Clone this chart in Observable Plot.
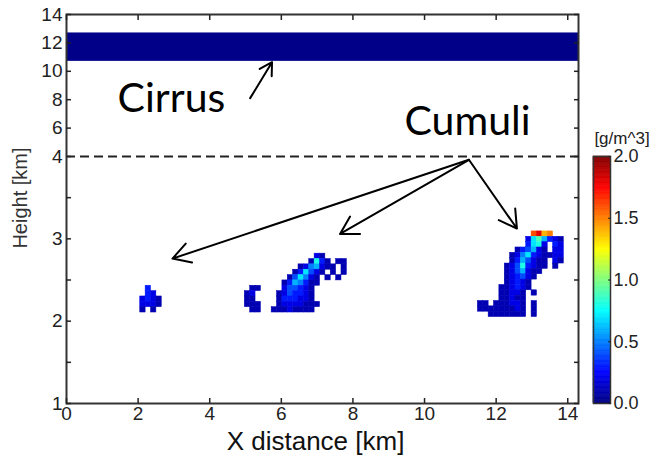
<!DOCTYPE html>
<html><head><meta charset="utf-8">
<script src="https://cdn.jsdelivr.net/npm/d3@7"></script>
<script src="https://cdn.jsdelivr.net/npm/@observablehq/plot@0.6"></script>
<style>
html,body{margin:0;padding:0;background:#fff;}
#chart{position:relative;width:654px;height:462px;}
#chart svg{position:absolute;left:0;top:0;}
</style></head><body><div id="chart"></div>
<script>
// ---- axes / ticks ----
const xMax = 14.3;
const xTicks = [0, 2, 4, 6, 8, 10, 12, 14];
const yTicksMajor = [1, 2, 3, 4, 6, 8, 10, 12, 14];
const yTicksMinor = [1.5, 2.5, 3.5];
const colorTicks = [0, 0.5, 1, 1.5, 2];
const jetStops = [0, 0.25, 0.75, 1.25, 1.75, 2];
const jetColors = ["#00007f", "#0000ff", "#00ffff", "#ffff00", "#ff0000", "#7f0000"];

// ---- cloud water content grids ----
const cellSize = [0.15, 0.065];          // km (dx, dy)
const levelChars = "123456789ABCDEFGHIJK"; // 0.1 ... 2.0 g/m^3
const cloudX0 = [2.06, 4.98, 11.49];     // left edge of each grid, km
const cloudTop = [2.43, 2.82, 3.09];     // top of each grid, km
const cloudRowsLeft = [
  ".3..",
  ".32.",
  "2321",
  "2221",
  "1.1."
];
const cloudRowsMiddle = [
  ".............21.....",
  "............1831.11.",
  "..........1256211.1.",
  ".........137421.1.1.",
  "........147521.1.1..",
  ".......1365311......",
  ".11....244321.......",
  "12....1243321.......",
  "11....1333221.......",
  "111...12222111......",
  ".11..11121111......."
];
const cloudRowsRight = [
  "..........GIEF..",
  ".........2796321",
  ".........3782.32",
  ".......134621.22",
  "......1257321122",
  "......1364211.21",
  ".....12483211.1.",
  ".....1246211....",
  ".....123421.....",
  ".....12321......",
  "....112321......",
  "....11221.1.....",
  "....11211.......",
  "11.111221.1.....",
  "111111121.1.....",
  "..1111111.1....."
];

// ---- cirrus layer ----
const cirrusBase = 10.7, cirrusTopKm = 12.7, cirrusLWC = 0.02;

// ---- annotations ----
const noteText = ["Cirrus", "Cumuli"];
const noteX = [2.93, 11.2];
const noteY = [8.04, 6.42];
const arrowX1 = [5.13, 11.24, 11.24, 11.24];
const arrowY1 = [8.11, 3.96, 3.96, 3.96];
const arrowX2 = [5.74, 2.96, 7.64, 12.58];
const arrowY2 = [10.64, 2.76, 3.06, 3.125];

// ---- build tables ----
const cloudRows = [cloudRowsLeft, cloudRowsMiddle, cloudRowsRight];
const cells = [];
cloudRows.forEach((rows, k) => rows.forEach((row, r) => [...row].forEach((ch, c) => {
  const i = levelChars.indexOf(ch);
  if (i < 0) return;
  const x1 = cloudX0[k] + c * cellSize[0];
  const y2 = cloudTop[k] - r * cellSize[1];
  cells.push({x1, x2: x1 + cellSize[0], y1: y2 - cellSize[1], y2, v: (i + 1) / 10});
})));
const cirrus = [{x1: 0, x2: xMax, y1: cirrusBase, y2: cirrusTopKm, v: cirrusLWC}];
const notes = noteText.map((t, i) => ({t, x: noteX[i], y: noteY[i]}));
const arrows = arrowX1.map((_, i) => ({x1: arrowX1[i], y1: arrowY1[i], x2: arrowX2[i], y2: arrowY2[i]}));

const colorScale = {type: "linear", domain: jetStops, range: jetColors, interpolate: "rgb", clamp: true};
const font = "'Liberation Sans', Arial, sans-serif";

const main = Plot.plot({
  width: 654, height: 462,
  marginLeft: 66, marginRight: 76, marginTop: 14, marginBottom: 59,
  style: {fontFamily: font, fontSize: "19px", color: "#222", background: "white", overflow: "visible"},
  x: {domain: [0, xMax]},
  y: {type: "linear", domain: [1, 4, 14], range: [403, 156, 14]},
  color: colorScale,
  marks: [
    Plot.rect(cells, {x1: "x1", x2: "x2", y1: "y1", y2: "y2", fill: "v", stroke: "v", strokeWidth: 0.5}),
    Plot.rect(cirrus, {x1: "x1", x2: "x2", y1: "y1", y2: "y2", fill: "v"}),
    Plot.ruleY([4], {stroke: "#222", strokeWidth: 2, strokeDasharray: "9,5"}),
    Plot.arrow(arrows.slice(0, 1), {x1: "x1", y1: "y1", x2: "x2", y2: "y2", headLength: 11, stroke: "#000", strokeWidth: 2}),
    Plot.arrow(arrows.slice(1), {x1: "x1", y1: "y1", x2: "x2", y2: "y2", headLength: 15, stroke: "#000", strokeWidth: 2}),
    Plot.text(notes, {x: "x", y: "y", text: "t", fontFamily: "Lato, 'Open Sans', sans-serif", fontSize: 41, fill: "#000"}),
    Plot.frame({stroke: "#333", strokeWidth: 2}),
    Plot.axisX({anchor: "bottom", ticks: xTicks, tickSize: -5, tickPadding: 8, strokeWidth: 1.5, fontSize: 19, label: null}),
    Plot.axisX({anchor: "top", ticks: xTicks, tickSize: -5, tickFormat: () => "", strokeWidth: 1.5, label: null}),
    Plot.axisY({anchor: "left", ticks: yTicksMajor, tickSize: -5, tickPadding: 9, strokeWidth: 1.5, fontSize: 19, label: null}),
    Plot.axisY({anchor: "left", ticks: yTicksMinor, tickSize: -5, tickFormat: () => "", strokeWidth: 1.5, label: null}),
    Plot.axisY({anchor: "right", ticks: yTicksMajor.concat(yTicksMinor), tickSize: -5, tickFormat: () => "", strokeWidth: 1.5, label: null}),
    Plot.text(["Height [km]"], {text: d => d, frameAnchor: "left", textAnchor: "middle", lineAnchor: "middle", rotate: -90, dx: -46, dy: -11, fontSize: 20, fill: "#333"}),
    Plot.text(["X distance [km]"], {text: d => d, frameAnchor: "bottom", textAnchor: "middle", lineAnchor: "middle", dx: -7, dy: 38, fontSize: 26, fill: "#111"})
  ]
});

const cbLevels = d3.range(0, 2, 0.01);
const bar = Plot.plot({
  width: 654, height: 462,
  marginLeft: 593, marginRight: 44, marginTop: 156, marginBottom: 59,
  style: {fontFamily: font, fontSize: "18px", color: "#222", background: "transparent", overflow: "visible"},
  x: {domain: [0, 1], axis: null},
  y: {domain: [0, 2], axis: null},
  color: colorScale,
  marks: [
    Plot.rect(cbLevels, {x1: 0, x2: 1, y1: d => d, y2: d => d + 0.01, fill: d => d + 0.005, stroke: d => d + 0.005, strokeWidth: 0.6}),
    Plot.frame({stroke: "#333", strokeWidth: 1.5}),
    Plot.axisY({anchor: "right", ticks: colorTicks, tickFormat: d3.format(".1f"), tickSize: -3, tickPadding: 6, fontSize: 18, label: null}),
    Plot.text(["[g/m^3]"], {text: d => d, frameAnchor: "top", textAnchor: "middle", lineAnchor: "middle", dx: 20, dy: -18, fontSize: 17, fill: "#222"})
  ]
});

const chart = document.getElementById("chart");
chart.appendChild(main);
chart.appendChild(bar);
</script></body></html>
